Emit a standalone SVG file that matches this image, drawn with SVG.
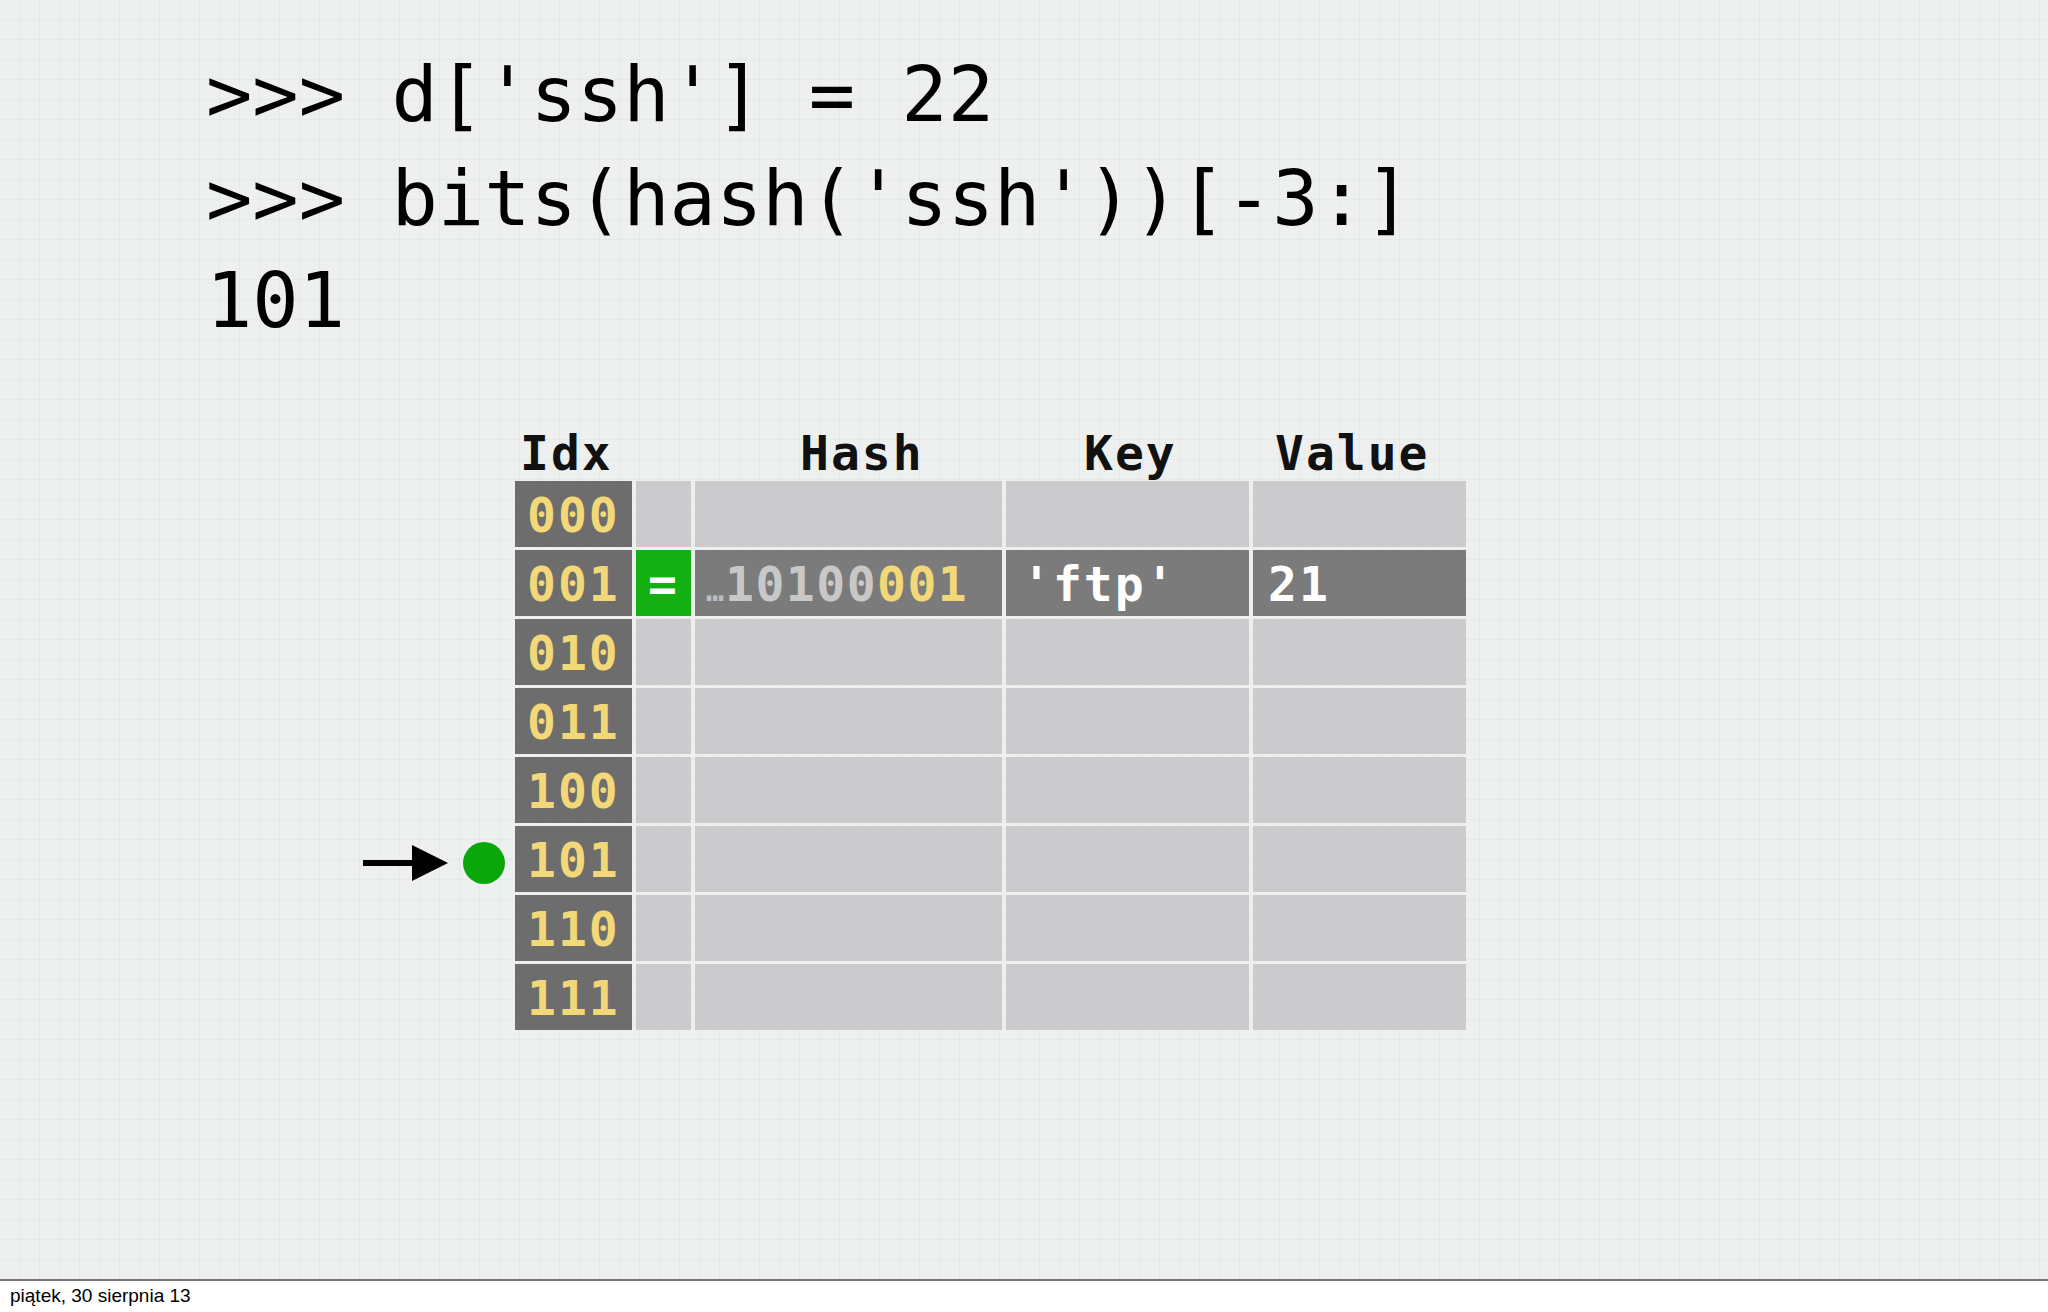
<svg xmlns="http://www.w3.org/2000/svg" width="2048" height="1312" viewBox="0 0 2048 1312">
<defs>
<pattern id="grid" width="20" height="20" patternUnits="userSpaceOnUse">
<rect width="20" height="20" fill="#eef0f0"/>
<path d="M20 0V20M0 20H20" stroke="#dde3e4" stroke-width="1.2" fill="none"/>
</pattern>
<marker id="ah" markerWidth="6" markerHeight="6" refX="5" refY="3" orient="auto" markerUnits="strokeWidth"><path d="M0,0L6,3L0,6z" fill="#000"/></marker>
<style>
.code{font-family:"DejaVu Sans Mono",monospace;font-size:77px;fill:#000}
.hd{font-family:"DejaVu Sans Mono",monospace;font-weight:bold;font-size:48px;fill:#111;letter-spacing:2px}
.idx{fill:#6d6d6d}
.cell{fill:#cbcacc}
.dark{fill:#7c7b7c}
.num{font-family:"DejaVu Sans Mono",monospace;font-weight:bold;font-size:48px;fill:#f2d878;letter-spacing:2px}
.wt{font-family:"DejaVu Sans Mono",monospace;font-weight:bold;font-size:48px;fill:#fff;letter-spacing:2px}
</style>
</defs>
<rect width="2048" height="1280" fill="url(#grid)"/>
<rect y="1280" width="2048" height="32" fill="#fff"/>
<line x1="0" y1="1280" x2="2048" y2="1280" stroke="#777" stroke-width="2"/>
<text x="10" y="1302" font-family="Liberation Sans, sans-serif" font-size="19" fill="#000">piątek, 30 sierpnia 13</text>
<g id="code">
<text class="code" x="206" y="121">&gt;&gt;&gt; d['ssh'] = 22</text>
<text class="code" x="206" y="225">&gt;&gt;&gt; bits(hash('ssh'))[-3:]</text>
<text class="code" x="206" y="327">101</text>
</g>
<g id="headers">
<text class="hd" x="520" y="470">Idx</text>
<text class="hd" x="800" y="470">Hash</text>
<text class="hd" x="1084" y="470">Key</text>
<text class="hd" x="1275" y="470">Value</text>
</g>
<g id="table">
<g id="r000"><rect class="idx" x="515" y="481" width="117" height="66"/><rect class="cell" x="636" y="481" width="55" height="66"/><rect class="cell" x="695" y="481" width="307" height="66"/><rect class="cell" x="1006" y="481" width="243" height="66"/><rect class="cell" x="1253" y="481" width="213" height="66"/><text class="num" x="527" y="532">000</text></g>
<g id="r001"><rect class="idx" x="515" y="550" width="117" height="66"/><rect fill="#12b012" x="636" y="550" width="55" height="66"/><rect class="dark" x="695" y="550" width="307" height="66"/><rect class="dark" x="1006" y="550" width="243" height="66"/><rect class="dark" x="1253" y="550" width="213" height="66"/><text class="num" x="527" y="601">001</text><text class="wt" x="648" y="601">=</text>
<text x="706" y="601" font-family="DejaVu Sans Mono, monospace" font-weight="bold" font-size="48" letter-spacing="1"><tspan fill="#bdbdbd" font-size="30">…</tspan><tspan fill="#c8c8c8" letter-spacing="1.5">10100</tspan><tspan fill="#f2d878" letter-spacing="1.5">001</tspan></text>
<text class="wt" x="1022" y="601">'ftp'</text><text class="wt" x="1268" y="601">21</text></g>
<g id="r010"><rect class="idx" x="515" y="619" width="117" height="66"/><rect class="cell" x="636" y="619" width="55" height="66"/><rect class="cell" x="695" y="619" width="307" height="66"/><rect class="cell" x="1006" y="619" width="243" height="66"/><rect class="cell" x="1253" y="619" width="213" height="66"/><text class="num" x="527" y="670">010</text></g>
<g id="r011"><rect class="idx" x="515" y="688" width="117" height="66"/><rect class="cell" x="636" y="688" width="55" height="66"/><rect class="cell" x="695" y="688" width="307" height="66"/><rect class="cell" x="1006" y="688" width="243" height="66"/><rect class="cell" x="1253" y="688" width="213" height="66"/><text class="num" x="527" y="739">011</text></g>
<g id="r100"><rect class="idx" x="515" y="757" width="117" height="66"/><rect class="cell" x="636" y="757" width="55" height="66"/><rect class="cell" x="695" y="757" width="307" height="66"/><rect class="cell" x="1006" y="757" width="243" height="66"/><rect class="cell" x="1253" y="757" width="213" height="66"/><text class="num" x="527" y="808">100</text></g>
<g id="r101"><rect class="idx" x="515" y="826" width="117" height="66"/><rect class="cell" x="636" y="826" width="55" height="66"/><rect class="cell" x="695" y="826" width="307" height="66"/><rect class="cell" x="1006" y="826" width="243" height="66"/><rect class="cell" x="1253" y="826" width="213" height="66"/><text class="num" x="527" y="877">101</text></g>
<g id="r110"><rect class="idx" x="515" y="895" width="117" height="66"/><rect class="cell" x="636" y="895" width="55" height="66"/><rect class="cell" x="695" y="895" width="307" height="66"/><rect class="cell" x="1006" y="895" width="243" height="66"/><rect class="cell" x="1253" y="895" width="213" height="66"/><text class="num" x="527" y="946">110</text></g>
<g id="r111"><rect class="idx" x="515" y="964" width="117" height="66"/><rect class="cell" x="636" y="964" width="55" height="66"/><rect class="cell" x="695" y="964" width="307" height="66"/><rect class="cell" x="1006" y="964" width="243" height="66"/><rect class="cell" x="1253" y="964" width="213" height="66"/><text class="num" x="527" y="1015">111</text></g>
</g>
<g id="pointer"><circle cx="484" cy="863" r="21" fill="#0aa70a"/></g>
<g id="connectors"><line x1="363" y1="863" x2="442" y2="863" stroke="#000" stroke-width="6" marker-end="url(#ah)"/></g>
</svg>
